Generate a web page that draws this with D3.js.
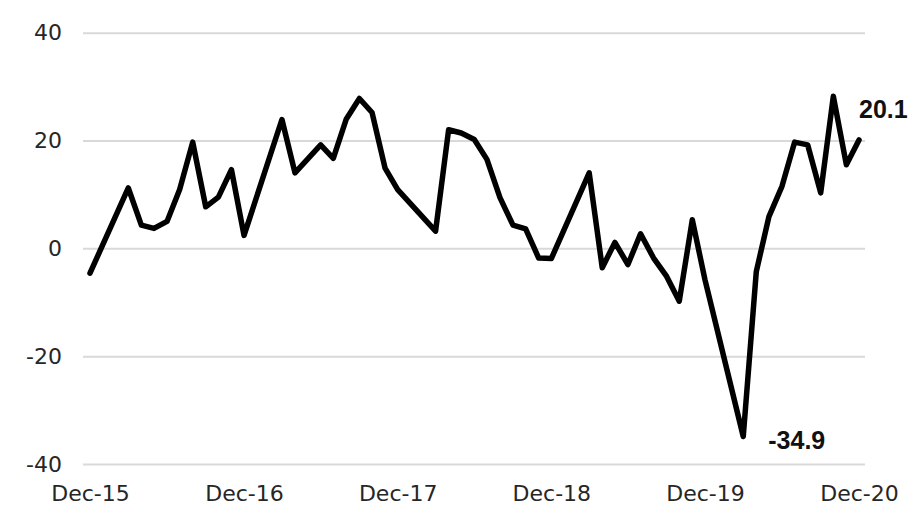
<!DOCTYPE html>
<html>
<head>
<meta charset="utf-8">
<script src="https://cdn.jsdelivr.net/npm/d3@7"></script>
<style>
  html, body { margin: 0; padding: 0; background: #ffffff; }
  svg { display: block; }
</style>
</head>
<body>
<svg id="chart" width="912" height="505"></svg>
<script>
// Monthly index readings, Dec 2015 – Dec 2020
const months = [
  "2015-12", "2016-03", "2016-04", "2016-05", "2016-06", "2016-07", "2016-08",
  "2016-09", "2016-10", "2016-11", "2016-12", "2017-03", "2017-04", "2017-06",
  "2017-07", "2017-08", "2017-09", "2017-10", "2017-11", "2017-12", "2018-03",
  "2018-04", "2018-05", "2018-06", "2018-07", "2018-08", "2018-09", "2018-10",
  "2018-11", "2018-12", "2019-03", "2019-04", "2019-05", "2019-06", "2019-07",
  "2019-08", "2019-09", "2019-10", "2019-11", "2019-12", "2020-03", "2020-04",
  "2020-05", "2020-06", "2020-07", "2020-08", "2020-09", "2020-10", "2020-11",
  "2020-12"
];
const values = [
  -4.6, 11.2, 4.3, 3.7, 5.0, 10.9, 19.7,
  7.7, 9.5, 14.6, 2.4, 23.9, 14.0, 19.2,
  16.7, 24.0, 27.8, 25.2, 14.9, 10.9, 3.2,
  22.0, 21.4, 20.2, 16.5, 9.4, 4.3, 3.6,
  -1.8, -1.9, 14.0, -3.6, 1.1, -3.0, 2.7,
  -1.8, -5.2, -9.8, 5.3, -5.8, -34.9, -4.3,
  5.9, 11.5, 19.7, 19.2, 10.3, 28.2, 15.5,
  20.1
];
const yTicks = [-40, -20, 0, 20, 40];
const xTickMonths = ["2015-12", "2016-12", "2017-12", "2018-12", "2019-12", "2020-12"];

const parseMonth = d3.timeParse("%Y-%m");
const data = months.map((m, i) => ({ date: parseMonth(m), value: values[i] }));

const svg = d3.select("#chart");
const gridLeft = 83, gridRight = 865;

const x = d3.scaleTime()
  .domain([parseMonth("2015-12"), parseMonth("2020-12")])
  .range([90, 859]);
const y = d3.scaleLinear()
  .domain([-40, 40])
  .range([464, 32.7]);

const labelFont = "'DejaVu Sans', sans-serif";
// plain hyphen for negatives
const hyphen = f => d => f(d).replace("\u2212", "-");

// Horizontal gridlines with value labels
const yAxis = d3.axisLeft(y)
  .tickValues(yTicks)
  .tickSize(-(gridRight - gridLeft))
  .tickPadding(21)
  .tickFormat(hyphen(d3.format("d")));
const gy = svg.append("g")
  .attr("transform", `translate(${gridLeft},0)`)
  .call(yAxis);
gy.select(".domain").remove();
gy.selectAll(".tick line").attr("stroke", "#d9d9d9").attr("stroke-width", 2);
gy.selectAll(".tick text")
  .attr("fill", "#262626")
  .style("font-family", labelFont)
  .style("font-size", "22px");

// Month labels along the bottom
const xAxis = d3.axisBottom(x)
  .tickValues(xTickMonths.map(parseMonth))
  .tickSize(0)
  .tickPadding(21)
  .tickFormat(d3.timeFormat("%b-%y"));
const gx = svg.append("g")
  .attr("transform", `translate(0,${y(-40)})`)
  .call(xAxis);
gx.select(".domain").remove();
gx.selectAll(".tick text")
  .attr("fill", "#262626")
  .style("font-family", labelFont)
  .style("font-size", "22px");

// Series line
const line = d3.line()
  .x(d => x(d.date))
  .y(d => y(d.value));
svg.append("path")
  .datum(data)
  .attr("d", line)
  .attr("fill", "none")
  .attr("stroke", "#000000")
  .attr("stroke-width", 5.5)
  .attr("stroke-linejoin", "round")
  .attr("stroke-linecap", "round");

// Value callouts for the low point and the latest reading
const low = data.reduce((a, b) => (b.value < a.value ? b : a));
const last = data[data.length - 1];
const fmt = hyphen(d3.format(".1f"));
svg.append("text")
  .attr("x", x(low.date) + 25)
  .attr("y", y(low.value) + 12)
  .attr("font-family", "'Liberation Sans', Arial, sans-serif")
  .attr("font-weight", "bold")
  .attr("font-size", 25)
  .attr("fill", "#111")
  .text(fmt(low.value));
svg.append("text")
  .attr("x", x(last.date))
  .attr("y", y(last.value) - 22)
  .attr("font-family", "'Liberation Sans', Arial, sans-serif")
  .attr("font-weight", "bold")
  .attr("font-size", 25)
  .attr("fill", "#111")
  .text(fmt(last.value));
</script>
</body>
</html>
